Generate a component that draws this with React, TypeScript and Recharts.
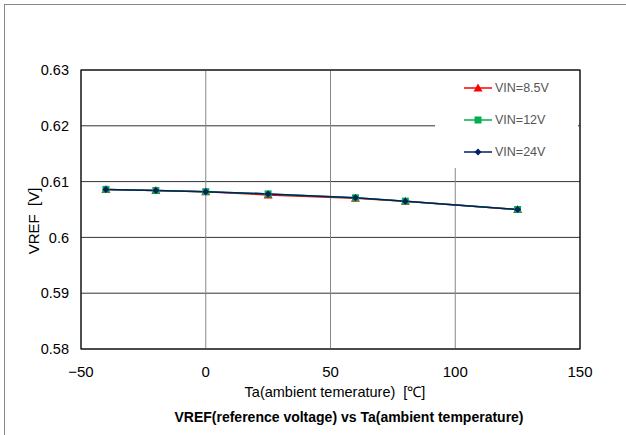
import React from "react";
import {
  LineChart,
  Line,
  XAxis,
  YAxis,
  CartesianGrid,
  Legend,
  ReferenceArea,
} from "recharts";

const temps = [-40, -20, 0, 25, 60, 80, 125];
const vin85 = [0.6086, 0.6084, 0.6082, 0.6076, 0.607, 0.6065, 0.605];
const vin12 = [0.6086, 0.6084, 0.6082, 0.6078, 0.6071, 0.6065, 0.605];
const vin24 = [0.6086, 0.6084, 0.6082, 0.6078, 0.6071, 0.6065, 0.605];
const xTicks = [-50, 0, 50, 100, 150];
const yTicks = [0.58, 0.59, 0.6, 0.61, 0.62, 0.63];

const data = temps.map((t, i) => ({
  ta: t,
  v85: vin85[i],
  v12: vin12[i],
  v24: vin24[i],
}));

const series = [
  { key: "v85", name: "VIN=8.5V", color: "#FF0000", shape: "triangle" },
  { key: "v12", name: "VIN=12V", color: "#00B050", shape: "square" },
  { key: "v24", name: "VIN=24V", color: "#002060", shape: "diamond" },
];

const font = "'Liberation Sans', Arial, sans-serif";

function MarkerShape({ cx, cy, shape, color }: any) {
  if (cx == null || cy == null) return null;
  if (shape === "triangle") {
    return (
      <polygon
        points={`${cx},${cy - 4.5} ${cx + 4.5},${cy + 3.5} ${cx - 4.5},${cy + 3.5}`}
        fill={color}
      />
    );
  }
  if (shape === "square") {
    return <rect x={cx - 3.5} y={cy - 3.5} width={7} height={7} fill={color} />;
  }
  return (
    <polygon
      points={`${cx},${cy - 3.5} ${cx + 3.5},${cy} ${cx},${cy + 3.5} ${cx - 3.5},${cy}`}
      fill={color}
    />
  );
}

function LegendBox() {
  return (
    <div style={{ position: "relative", width: 143, height: 97, background: "#fff" }}>
      {series.map((s, i) => (
        <div
          key={s.key}
          style={{
            position: "absolute",
            left: 0,
            top: 17 + i * 32 - 8,
            height: 16,
            display: "flex",
            alignItems: "center",
          }}
        >
          <svg width={60} height={16} style={{ display: "block" }}>
            <line x1={29} y1={8} x2={57} y2={8} stroke={s.color} strokeWidth={1.5} />
            <MarkerShape cx={43} cy={8} shape={s.shape} color={s.color} />
          </svg>
          <span style={{ fontFamily: font, fontSize: 12.5, color: "#555" }}>{s.name}</span>
        </div>
      ))}
    </div>
  );
}

export default function App() {
  return (
    <div style={{ position: "absolute", left: 0, top: 0, width: 626, height: 435, background: "#fff" }}>
      <div
        style={{
          position: "absolute",
          left: 4,
          top: 4,
          width: 622,
          height: 431,
          borderTop: "1px solid #888",
          borderLeft: "1px solid #888",
        }}
      />
      <LineChart
        width={626}
        height={435}
        data={data}
        margin={{ top: 70, right: 46, bottom: 0, left: 0 }}
        style={{ position: "absolute", left: 0, top: 0 }}
      >
        <CartesianGrid horizontal vertical={false} stroke="#333" />
        <CartesianGrid horizontal={false} vertical stroke="#888" />
        <XAxis
          dataKey="ta"
          type="number"
          domain={[-50, 150]}
          ticks={xTicks}
          axisLine={false}
          tickLine={false}
          tickSize={0}
          tickMargin={17}
          tickFormatter={(v: number) => (v < 0 ? `\u2212${-v}` : `${v}`)}
          tick={{ fill: "#000", fontSize: 15, fontFamily: font }}
          height={86}
        />
        <YAxis
          type="number"
          domain={[0.58, 0.63]}
          ticks={yTicks}
          axisLine={false}
          tickLine={false}
          tickSize={0}
          tickMargin={12}
          width={81}
          tick={{ fill: "#000", fontSize: 14.5, fontFamily: font }}
        />
        <ReferenceArea
          x1={-50}
          x2={150}
          y1={0.58}
          y2={0.63}
          fill="none"
          stroke="#000"
          strokeWidth={1.2}
          strokeOpacity={1}
        />
        {series.map((s) => (
          <Line
            key={s.key}
            dataKey={s.key}
            name={s.name}
            stroke={s.color}
            strokeWidth={1.5}
            isAnimationActive={false}
            dot={(p: any) => (
              <MarkerShape key={`${s.key}-${p.index}`} cx={p.cx} cy={p.cy} shape={s.shape} color={s.color} />
            )}
            activeDot={false}
          />
        ))}
        <Legend
          layout="vertical"
          align="center"
          verticalAlign="middle"
          content={() => <LegendBox />}
          wrapperStyle={{ left: 435, top: 71, width: 143, height: 97 }}
        />
      </LineChart>
      <div
        style={{
          position: "absolute",
          left: 33,
          top: 221,
          transform: "translate(-50%, -50%) rotate(-90deg)",
          fontFamily: font,
          fontSize: 15,
          whiteSpace: "pre",
        }}
      >
        {"VREF  [V]"}
      </div>
      <div
        style={{
          position: "absolute",
          left: 335,
          top: 391,
          transform: "translate(-50%, -50%)",
          fontFamily: font,
          fontSize: 14.5,
          whiteSpace: "pre",
        }}
      >
        {"Ta(ambient temerature)  [℃]"}
      </div>
      <div
        style={{
          position: "absolute",
          left: 349,
          top: 417,
          transform: "translate(-50%, -50%)",
          fontFamily: font,
          fontSize: 14,
          fontWeight: "bold",
          whiteSpace: "pre",
        }}
      >
        VREF(reference voltage) vs Ta(ambient temperature)
      </div>
    </div>
  );
}
